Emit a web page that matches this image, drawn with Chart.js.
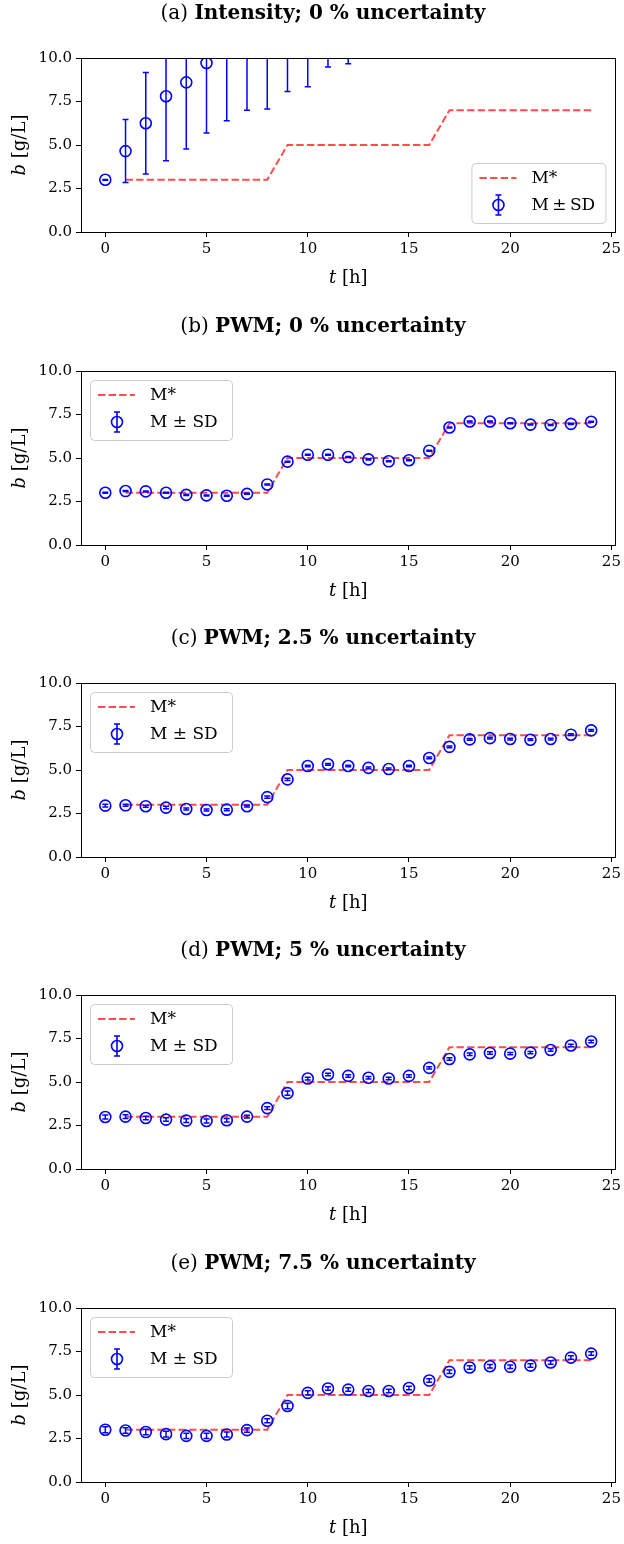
<!DOCTYPE html>
<html>
<head>
<meta charset="utf-8">
<script src="https://cdn.jsdelivr.net/npm/chart.js@4/dist/chart.umd.min.js"></script>
<style>
  html, body { margin: 0; padding: 0; background: #fff; overflow: hidden; }
  #page { position: relative; width: 624px; height: 1544px; }
  .panel { position: absolute; left: 0; width: 624px; height: 312px; }
</style>
</head>
<body>
<div id="page">
  <div class="panel" style="top:0px"><canvas id="c0" width="624" height="312"></canvas></div>
  <div class="panel" style="top:313px"><canvas id="c1" width="624" height="312"></canvas></div>
  <div class="panel" style="top:625px"><canvas id="c2" width="624" height="312"></canvas></div>
  <div class="panel" style="top:937px"><canvas id="c3" width="624" height="312"></canvas></div>
  <div class="panel" style="top:1250px"><canvas id="c4" width="624" height="312"></canvas></div>
</div>
<script>
// sampling hours and the reference trajectory M*
const hours = [0,1,2,3,4,5,6,7,8,9,10,11,12,13,14,15,16,17,18,19,20,21,22,23,24];
const targetHours = [1,2,3,4,5,6,7,8,9,10,11,12,13,14,15,16,17,18,19,20,21,22,23,24];
const targetB = [3,3,3,3,3,3,3,3,5,5,5,5,5,5,5,5,7,7,7,7,7,7,7,7];

const xTicks = [0,5,10,15,20,25];
const yTicks = [0,2.5,5,7.5,10];

// (a) intensity control
const meanIntensity0 = [3.0,4.65,6.25,7.80,8.60,9.71,10.5,11.1,11.4,11.9,12.2,12.6,12.9,13.2,13.5,13.7,13.9,14.1,14.3,14.4,14.5,14.6,14.7,14.8,14.9];
const sdIntensity0   = [0.02,1.81,2.92,3.70,3.83,4.02,4.10,4.11,4.33,3.82,3.85,3.12,3.23,3.0,3.1,3.2,3.3,3.4,3.4,3.5,3.5,3.6,3.6,3.7,3.7];

// (b) PWM, 0 %
const meanPwm0 = [3.0,3.10,3.08,3.0,2.88,2.85,2.83,2.94,3.48,4.79,5.19,5.19,5.06,4.92,4.81,4.87,5.42,6.75,7.10,7.10,7.0,6.92,6.90,6.96,7.08];
const sdPwm0   = [0.03,0.03,0.03,0.03,0.03,0.03,0.03,0.03,0.03,0.03,0.03,0.03,0.03,0.03,0.03,0.03,0.03,0.03,0.03,0.03,0.03,0.03,0.03,0.03,0.03];

// (c) PWM, 2.5 %
const meanPwm25 = [2.95,2.97,2.92,2.84,2.76,2.70,2.72,2.92,3.44,4.46,5.23,5.33,5.23,5.12,5.06,5.23,5.69,6.33,6.76,6.83,6.78,6.74,6.78,7.03,7.28];
const sdPwm25   = [0.08,0.06,0.06,0.07,0.06,0.06,0.06,0.05,0.06,0.07,0.05,0.05,0.05,0.05,0.05,0.05,0.05,0.05,0.05,0.05,0.05,0.05,0.05,0.05,0.05];

// (d) PWM, 5 %
const meanPwm5 = [2.99,3.01,2.93,2.84,2.78,2.76,2.80,3.01,3.50,4.36,5.20,5.43,5.35,5.24,5.20,5.35,5.81,6.32,6.59,6.67,6.63,6.69,6.84,7.10,7.33];
const sdPwm5   = [0.12,0.11,0.10,0.10,0.11,0.11,0.10,0.08,0.08,0.12,0.08,0.07,0.07,0.07,0.07,0.07,0.07,0.07,0.07,0.07,0.07,0.07,0.07,0.07,0.07];

// (e) PWM, 7.5 %
const meanPwm75 = [3.0,2.96,2.87,2.75,2.65,2.65,2.73,2.98,3.52,4.37,5.12,5.37,5.31,5.23,5.23,5.40,5.83,6.33,6.58,6.65,6.62,6.69,6.87,7.15,7.38];
const sdPwm75   = [0.17,0.16,0.16,0.16,0.15,0.15,0.15,0.12,0.12,0.16,0.12,0.1,0.1,0.1,0.1,0.1,0.1,0.1,0.1,0.1,0.1,0.1,0.1,0.1,0.1];

const panelTags  = ['(a)','(b)','(c)','(d)','(e)'];
const panelNames = ['Intensity; 0 % uncertainty','PWM; 0 % uncertainty','PWM; 2.5 % uncertainty','PWM; 5 % uncertainty','PWM; 7.5 % uncertainty'];
const panelMeans = [meanIntensity0, meanPwm0, meanPwm25, meanPwm5, meanPwm75];
const panelSds   = [sdIntensity0, sdPwm0, sdPwm25, sdPwm5, sdPwm75];
const legendCorner = ['br','tl','tl','tl','tl'];

const SERIF = '"DejaVu Serif", "Liberation Serif", serif';
const BLUE = '#0000ff';
const RED = 'rgba(255,0,0,0.7)';

// draws mixed-style text pieces left to right, centred on cx
function drawPieces(ctx, pieces, cx, cy) {
  let total = 0;
  pieces.forEach(p => { ctx.font = p.font; total += ctx.measureText(p.text).width; });
  let x = cx - total / 2;
  ctx.textBaseline = 'middle';
  ctx.textAlign = 'left';
  pieces.forEach(p => {
    ctx.font = p.font;
    ctx.fillText(p.text, x, cy);
    x += ctx.measureText(p.text).width;
  });
}

function errorGlyph(ctx, x, y, half) {
  ctx.beginPath();
  ctx.moveTo(x, y - half); ctx.lineTo(x, y + half);
  ctx.moveTo(x - 3, y - half); ctx.lineTo(x + 3, y - half);
  ctx.moveTo(x - 3, y + half); ctx.lineTo(x + 3, y + half);
  ctx.stroke();
}

const decor = {
  id: 'decor',
  afterDatasetsDraw(chart, args, opts) {
    const ctx = chart.ctx, a = chart.chartArea;
    const xs = chart.scales.x, ys = chart.scales.y;
    // error bars M +- SD
    ctx.save();
    ctx.beginPath();
    ctx.rect(a.left, a.top, a.right - a.left, a.bottom - a.top);
    ctx.clip();
    ctx.strokeStyle = BLUE;
    ctx.lineWidth = 1.5;
    opts.mean.forEach((m, i) => {
      const x = xs.getPixelForValue(hours[i]);
      const lo = ys.getPixelForValue(m - opts.sd[i]);
      const hi = ys.getPixelForValue(m + opts.sd[i]);
      ctx.beginPath();
      ctx.moveTo(x, lo); ctx.lineTo(x, hi);
      ctx.moveTo(x - 3, lo); ctx.lineTo(x + 3, lo);
      ctx.moveTo(x - 3, hi); ctx.lineTo(x + 3, hi);
      ctx.stroke();
    });
    ctx.restore();
  },
  afterDraw(chart, args, opts) {
    const ctx = chart.ctx, a = chart.chartArea;
    ctx.save();
    // axes frame
    ctx.strokeStyle = '#000';
    ctx.lineWidth = 1;
    ctx.strokeRect(Math.round(a.left) + 0.5, Math.round(a.top) + 0.5, Math.round(a.right - a.left), Math.round(a.bottom - a.top));

    ctx.fillStyle = '#000';
    // panel caption
    drawPieces(ctx, [
      { text: opts.tag + ' ', font: '20px ' + SERIF },
      { text: opts.name, font: 'bold 20px ' + SERIF }
    ], 323, 14);

    // axis titles
    drawPieces(ctx, [
      { text: 't', font: 'italic 18px ' + SERIF },
      { text: ' [h]', font: '18px ' + SERIF }
    ], (a.left + a.right) / 2, 278);
    ctx.save();
    ctx.translate(20, (a.top + a.bottom) / 2);
    ctx.rotate(-Math.PI / 2);
    drawPieces(ctx, [
      { text: 'b', font: 'italic 18px ' + SERIF },
      { text: ' [g/L]', font: '18px ' + SERIF }
    ], 0, 0);
    ctx.restore();

    // legend
    const w = opts.corner === 'br' ? 134 : 142, h = 60;
    const bx = opts.corner === 'br' ? a.right - 10 - w : a.left + 9;
    const by = opts.corner === 'br' ? a.bottom - 9 - h : a.top + 9;
    ctx.beginPath();
    ctx.roundRect(bx + 0.5, by + 0.5, w, h, 4);
    ctx.fillStyle = 'rgba(255,255,255,0.8)';
    ctx.fill();
    ctx.strokeStyle = '#cccccc';
    ctx.stroke();

    const r1 = by + 15, r2 = by + 42;
    ctx.strokeStyle = RED;
    ctx.lineWidth = 2;
    ctx.setLineDash([7.4, 3.2]);
    ctx.beginPath();
    ctx.moveTo(bx + 8, r1); ctx.lineTo(bx + 45, r1);
    ctx.stroke();
    ctx.setLineDash([]);

    ctx.strokeStyle = BLUE;
    ctx.lineWidth = 1.6;
    errorGlyph(ctx, bx + 27, r2, 10);
    ctx.beginPath();
    ctx.arc(bx + 27, r2, 5.5, 0, Math.PI * 2);
    ctx.stroke();

    ctx.fillStyle = '#000';
    ctx.font = '17px ' + SERIF;
    ctx.textAlign = 'left';
    ctx.textBaseline = 'middle';
    ctx.fillText('M*', bx + 60, r1 + 1);
    ctx.fillText(opts.corner === 'br' ? 'M\u2009±\u2009SD' : 'M ± SD', bx + 60, r2 + 1);
    ctx.restore();
  }
};

const tickFont = { family: SERIF, size: 15 };

panelMeans.forEach((mean, k) => {
  new Chart(document.getElementById('c' + k), {
    data: {
      datasets: [
        {
          type: 'scatter',
          label: 'M ± SD',
          data: hours.map((t, i) => ({ x: t, y: mean[i] })),
          pointRadius: 5.5,
          pointHoverRadius: 5.5,
          pointBorderWidth: 1.6,
          pointBorderColor: BLUE,
          pointBackgroundColor: 'rgba(0,0,0,0)'
        },
        {
          type: 'line',
          label: 'M*',
          data: targetHours.map((t, i) => ({ x: t, y: targetB[i] })),
          borderColor: RED,
          borderWidth: 2,
          borderDash: [7.4, 3.2],
          pointRadius: 0,
          tension: 0,
          fill: false
        }
      ]
    },
    options: {
      responsive: false,
      animation: false,
      devicePixelRatio: 1,
      layout: { padding: { top: 58, right: 7, left: 0, bottom: 0 } },
      scales: {
        x: {
          type: 'linear',
          min: -1.2,
          max: 25.2,
          afterBuildTicks: s => { s.ticks = xTicks.map(v => ({ value: v })); },
          afterFit: s => { s.height = 80; },
          ticks: { font: tickFont, color: '#000', padding: 3, maxRotation: 0, callback: v => String(v) },
          grid: { display: true, drawOnChartArea: false, drawTicks: true, tickLength: 5, color: '#000' },
          border: { display: true, color: '#000', width: 1 }
        },
        y: {
          type: 'linear',
          min: 0,
          max: 10,
          afterBuildTicks: s => { s.ticks = yTicks.map(v => ({ value: v })); },
          afterFit: s => { s.width = 81; },
          ticks: { font: tickFont, color: '#000', padding: 4, callback: v => v.toFixed(1) },
          grid: { display: true, drawOnChartArea: false, drawTicks: true, tickLength: 5, color: '#000' },
          border: { display: true, color: '#000', width: 1 }
        }
      },
      plugins: {
        legend: { display: false },
        tooltip: { enabled: false },
        decor: {
          tag: panelTags[k],
          name: panelNames[k],
          mean: mean,
          sd: panelSds[k],
          corner: legendCorner[k]
        }
      }
    },
    plugins: [decor]
  });
});
</script>
</body>
</html>
